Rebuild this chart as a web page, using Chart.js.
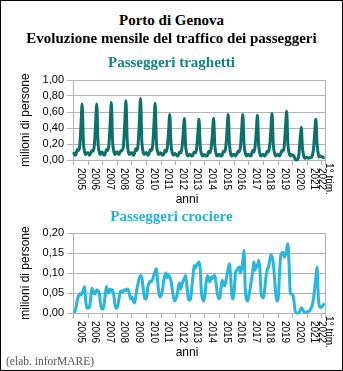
<!DOCTYPE html>
<html>
<head>
<meta charset="utf-8">
<script src="https://cdn.jsdelivr.net/npm/chart.js@4/dist/chart.umd.min.js"></script>
<style>
  html, body { margin: 0; padding: 0; background: #fff; }
  body { width: 343px; height: 371px; overflow: hidden; position: relative; }
  #cornice { position: absolute; left: 0; top: 0; width: 343px; height: 371px; box-sizing: border-box; border: 1px solid #000; }
  canvas { position: absolute; left: 0; }
  .tit { position: absolute; left: 0; width: 343px; text-align: center; font-family: "Liberation Serif", "Times New Roman", serif; font-weight: bold; font-size: 15px; line-height: 15px; white-space: nowrap; }
  #fonte { position: absolute; left: 6px; top: 355px; font-family: "Liberation Serif", "Times New Roman", serif; font-size: 11.5px; line-height: 12px; color: #555; }
</style>
</head>
<body>
<div id="cornice"></div>
<canvas id="traghetti" width="343" height="140" style="top:66px"></canvas>
<canvas id="crociere" width="343" height="140" style="top:219px"></canvas>
<div class="tit" style="top:13px">Porto di Genova</div>
<div class="tit" style="top:31px">Evoluzione mensile del traffico dei passeggeri</div>
<div class="tit" style="top:55px;color:#178282">Passeggeri traghetti</div>
<div class="tit" style="top:209px;color:#26b2d8">Passeggeri crociere</div>
<div id="fonte">(elab. inforMARE)</div>
<script>
// anni sull'asse x (l'ultimo e' il primo trimestre 2022)
const anni = ['2005', '2006', '2007', '2008', '2009', '2010', '2011', '2012', '2013',
  '2014', '2015', '2016', '2017', '2018', '2019', '2020', '2021', ['1° trim.', '2022']];
const mesi = ['gen', 'feb', 'mar', 'apr', 'mag', 'giu', 'lug', 'ago', 'set', 'ott', 'nov', 'dic'];

// milioni di persone, un valore per mese (gen 2005 - mar 2022)
const passeggeriTraghetti = [
  0.10, 0.06, 0.07, 0.13, 0.12, 0.17, 0.42, 0.70, 0.24, 0.10, 0.07, 0.09,
  0.09, 0.06, 0.08, 0.12, 0.11, 0.18, 0.43, 0.70, 0.23, 0.10, 0.07, 0.10,
  0.09, 0.06, 0.08, 0.13, 0.12, 0.19, 0.45, 0.72, 0.24, 0.11, 0.07, 0.10,
  0.10, 0.07, 0.09, 0.12, 0.12, 0.19, 0.46, 0.74, 0.25, 0.10, 0.07, 0.09,
  0.09, 0.06, 0.08, 0.14, 0.12, 0.20, 0.48, 0.77, 0.25, 0.11, 0.07, 0.09,
  0.09, 0.06, 0.08, 0.13, 0.12, 0.19, 0.45, 0.71, 0.23, 0.10, 0.07, 0.09,
  0.08, 0.06, 0.07, 0.12, 0.10, 0.16, 0.36, 0.57, 0.20, 0.09, 0.06, 0.08,
  0.07, 0.05, 0.06, 0.10, 0.09, 0.15, 0.33, 0.52, 0.18, 0.08, 0.05, 0.07,
  0.07, 0.05, 0.06, 0.10, 0.09, 0.14, 0.32, 0.51, 0.17, 0.08, 0.05, 0.07,
  0.06, 0.05, 0.06, 0.11, 0.09, 0.15, 0.33, 0.52, 0.18, 0.08, 0.05, 0.07,
  0.07, 0.05, 0.06, 0.11, 0.10, 0.16, 0.36, 0.57, 0.20, 0.08, 0.05, 0.07,
  0.07, 0.05, 0.07, 0.11, 0.10, 0.16, 0.37, 0.57, 0.20, 0.09, 0.05, 0.07,
  0.07, 0.05, 0.06, 0.12, 0.10, 0.16, 0.35, 0.56, 0.19, 0.08, 0.05, 0.07,
  0.07, 0.05, 0.07, 0.11, 0.10, 0.17, 0.37, 0.58, 0.20, 0.09, 0.05, 0.07,
  0.07, 0.05, 0.07, 0.12, 0.11, 0.17, 0.39, 0.61, 0.21, 0.09, 0.05, 0.07,
  0.06, 0.05, 0.01, 0.00, 0.01, 0.06, 0.25, 0.41, 0.15, 0.05, 0.02, 0.03,
  0.03, 0.02, 0.03, 0.03, 0.05, 0.13, 0.33, 0.51, 0.20, 0.07, 0.04, 0.05,
  0.04, 0.03, 0.04
];

const passeggeriCrociere = [
  0.006, 0.003, 0.015, 0.032, 0.042, 0.048, 0.045, 0.050, 0.058, 0.066, 0.030, 0.012,
  0.012, 0.015, 0.035, 0.062, 0.055, 0.048, 0.050, 0.058, 0.055, 0.050, 0.025, 0.010,
  0.010, 0.020, 0.045, 0.066, 0.052, 0.050, 0.060, 0.055, 0.058, 0.045, 0.020, 0.012,
  0.015, 0.030, 0.050, 0.055, 0.052, 0.055, 0.058, 0.056, 0.060, 0.058, 0.045, 0.035,
  0.040, 0.030, 0.025, 0.040, 0.060, 0.075, 0.088, 0.094, 0.090, 0.065, 0.040, 0.035,
  0.040, 0.065, 0.075, 0.080, 0.078, 0.085, 0.095, 0.105, 0.111, 0.080, 0.050, 0.040,
  0.045, 0.057, 0.080, 0.095, 0.100, 0.088, 0.095, 0.090, 0.080, 0.060, 0.040, 0.030,
  0.035, 0.045, 0.065, 0.075, 0.060, 0.072, 0.080, 0.088, 0.094, 0.070, 0.040, 0.032,
  0.035, 0.060, 0.090, 0.118, 0.112, 0.120, 0.124, 0.128, 0.110, 0.050, 0.035, 0.030,
  0.050, 0.080, 0.094, 0.085, 0.078, 0.090, 0.086, 0.092, 0.094, 0.075, 0.050, 0.038,
  0.036, 0.060, 0.082, 0.075, 0.068, 0.078, 0.095, 0.112, 0.123, 0.090, 0.045, 0.035,
  0.060, 0.100, 0.107, 0.112, 0.115, 0.100, 0.110, 0.130, 0.157, 0.060, 0.035, 0.030,
  0.045, 0.060, 0.082, 0.100, 0.128, 0.107, 0.120, 0.115, 0.132, 0.110, 0.050, 0.040,
  0.038, 0.060, 0.090, 0.107, 0.115, 0.130, 0.145, 0.140, 0.125, 0.090, 0.048, 0.030,
  0.035, 0.090, 0.140, 0.150, 0.152, 0.140, 0.145, 0.160, 0.173, 0.120, 0.050, 0.046,
  0.046, 0.030, 0.004, 0.000, 0.000, 0.001, 0.006, 0.013, 0.009, 0.004, 0.002, 0.002,
  0.003, 0.004, 0.006, 0.012, 0.020, 0.035, 0.060, 0.090, 0.115, 0.040, 0.016, 0.014,
  0.016, 0.020, 0.024
];

const SANS = '"Liberation Sans", Arial, sans-serif';
const GRIGIO = '#b3b3b3';
Chart.defaults.font.family = SANS;
Chart.defaults.color = '#000';

// etichette mensili per l'asse a categorie
const etichette = passeggeriTraghetti.map((v, i) => mesi[i % 12] + ' ' + (2005 + Math.floor(i / 12)));

// asse x disegnato a mano: tacche annuali, anni ruotati e titolo "anni"
const asseAnni = {
  id: 'asseAnni',
  afterDraw(chart) {
    const { ctx, chartArea: a, scales: { x } } = chart;
    ctx.save();
    ctx.strokeStyle = GRIGIO;
    ctx.lineWidth = 1;
    ctx.beginPath();
    const r = Math.round(a.right) + 0.5;
    ctx.moveTo(r, a.top);
    ctx.lineTo(r, a.bottom);
    const bordi = anni.map((_, k) => 12 * k).concat([etichette.length]);
    bordi.forEach(b => {
      const px = Math.round(x.getPixelForValue(b - 0.5)) + 0.5;
      ctx.moveTo(px, a.bottom);
      ctx.lineTo(px, a.bottom + 5);
    });
    ctx.stroke();

    ctx.fillStyle = '#000';
    ctx.font = '10px ' + SANS;
    ctx.textAlign = 'center';
    ctx.textBaseline = 'middle';
    anni.forEach((lab, k) => {
      const ultimo = Array.isArray(lab);
      const centro = ultimo ? x.getPixelForValue((12 * k + etichette.length - 1) / 2) + 2
                            : x.getPixelForValue(12 * k + 5.5);
      const righe = ultimo ? lab : [lab];
      ctx.save();
      ctx.translate(centro, a.bottom + 19);
      ctx.rotate(Math.PI / 2);
      righe.forEach((t, j) => {
        ctx.fillText(t, 0, (j - (righe.length - 1) / 2) * 7);
      });
      ctx.restore();
    });

    ctx.font = '12px ' + SANS;
    ctx.textBaseline = 'alphabetic';
    ctx.fillText('anni', 187, a.bottom + 43);

    ctx.save();
    ctx.translate(26, (a.top + a.bottom) / 2);
    ctx.rotate(-Math.PI / 2);
    ctx.textBaseline = 'middle';
    ctx.fillText('milioni di persone', 0, 0);
    ctx.restore();
    ctx.restore();
  }
};

function creaGrafico(id, valori, colore, massimo, nTacche) {
  return new Chart(document.getElementById(id), {
    type: 'line',
    data: {
      labels: etichette,
      datasets: [{
        data: valori,
        borderColor: colore,
        borderWidth: 3,
        pointRadius: 0,
        cubicInterpolationMode: 'monotone',
        clip: 4
      }]
    },
    options: {
      responsive: false,
      animation: false,
      devicePixelRatio: 1,
      layout: { padding: { top: 14, right: 18, left: 0, bottom: 0 } },
      plugins: { legend: { display: false }, tooltip: { enabled: false } },
      scales: {
        x: {
          offset: true,
          grid: { display: false },
          border: { display: true, color: GRIGIO },
          ticks: { display: false },
          afterFit(s) { s.height = 46; }
        },
        y: {
          min: 0,
          max: massimo,
          grid: { color: GRIGIO, tickLength: 6 },
          border: { display: true, color: GRIGIO },
          ticks: {
            count: nTacche,
            autoSkip: false,
            padding: 3,
            font: { size: 11 },
            color: '#000',
            callback: v => v.toFixed(2).replace('.', ',')
          },
          afterFit(s) { s.width = 73; }
        }
      }
    },
    plugins: [asseAnni]
  });
}

creaGrafico('traghetti', passeggeriTraghetti, '#0d716b', 1, 6);
creaGrafico('crociere', passeggeriCrociere, '#27b6dd', 0.2, 5);
</script>
</body>
</html>
